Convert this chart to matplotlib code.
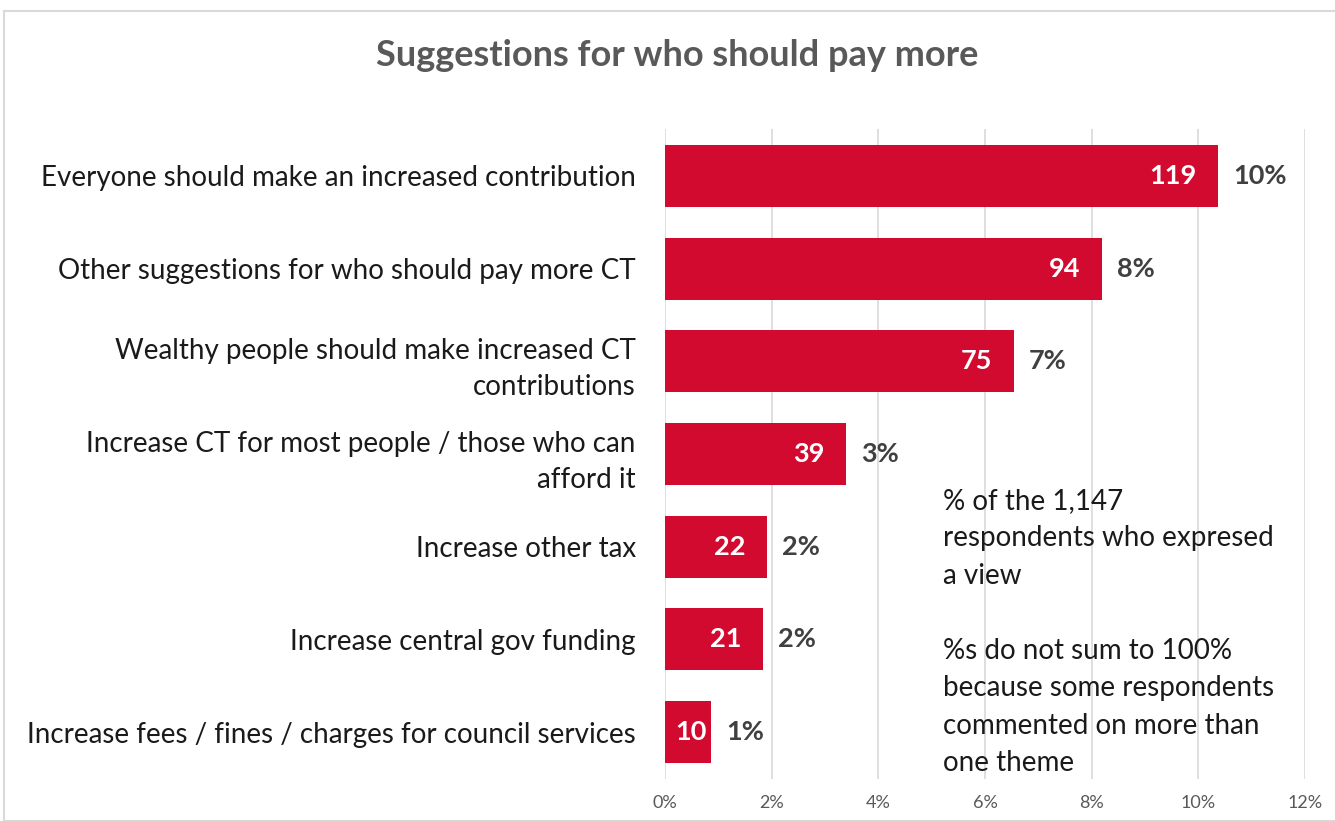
import matplotlib.pyplot as plt
from matplotlib.patches import Rectangle
from matplotlib.ticker import FuncFormatter

plt.rcParams['font.family'] = ['Lato', 'DejaVu Sans']

categories = [
    'Everyone should make an increased contribution',
    'Other suggestions for who should pay more CT',
    'Wealthy people should make increased CT\ncontributions',
    'Increase CT for most people / those who can\nafford it',
    'Increase other tax',
    'Increase central gov funding',
    'Increase fees / fines / charges for council services',
]
counts = [119, 94, 75, 39, 22, 21, 10]
pct_labels = ['10%', '8%', '7%', '3%', '2%', '2%', '1%']
total = 1147

pcts = [c / total * 100 for c in counts]

fig = plt.figure(figsize=(13.35, 8.21), dpi=100)
fig.patches.append(Rectangle((4 / 1335, 0), 1.0, 1 - 11 / 821, transform=fig.transFigure,
                             fill=False, edgecolor='#D9D9D9', linewidth=1.5))

ax = fig.add_axes([665 / 1335, 1 - 778.5 / 821, 640 / 1335, 649 / 821])
y = list(range(len(categories)))
ax.barh(y, pcts, height=0.67, color='#D20A30', zorder=3)
ax.set_ylim(len(categories) - 0.5, -0.5)
ax.set_xlim(0, 12)
ax.set_xticks(range(0, 13, 2))
ax.xaxis.set_major_formatter(FuncFormatter(lambda v, p: f'{v:.0f}%'))
ax.grid(axis='x', color='#D9D9D9', linewidth=1.2, zorder=0)
for s in ax.spines.values():
    s.set_visible(False)
ax.tick_params(axis='x', length=0, labelsize=13, labelcolor='#595959', pad=12)
ax.tick_params(axis='y', length=0, pad=21)
ax.set_yticks(y)
ax.set_yticklabels(categories, fontsize=20, color='#1a1a1a', linespacing=1.5)

for i in y:
    # short bars: centre the count inside the bar
    if pcts[i] < 1.5:
        ax.text(pcts[i] / 2 + 0.05, i, str(counts[i]), ha='center', va='center',
                color='white', fontsize=19.5, fontweight='bold', zorder=4)
    else:
        ax.text(pcts[i] - 0.4, i, str(counts[i]), ha='right', va='center',
                color='white', fontsize=19.5, fontweight='bold', zorder=4)
    ax.text(pcts[i] + 0.28, i, pct_labels[i], ha='left', va='center',
            color='#404040', fontsize=19.5, fontweight='bold', zorder=4)

fig.text(943 / 1335, 1 - 488 / 821,
         '% of the 1,147\nrespondents who expresed\na view\n\n%s do not sum to 100%\nbecause some respondents\ncommented on more than\none theme',
         ha='left', va='top', fontsize=20, color='#1a1a1a', linespacing=1.545)

fig.text(677 / 1335, 1 - 55 / 821, 'Suggestions for who should pay more', ha='center', va='center',
         fontsize=26, fontweight='bold', color='#595959')

fig.savefig('out.png', dpi=100)
